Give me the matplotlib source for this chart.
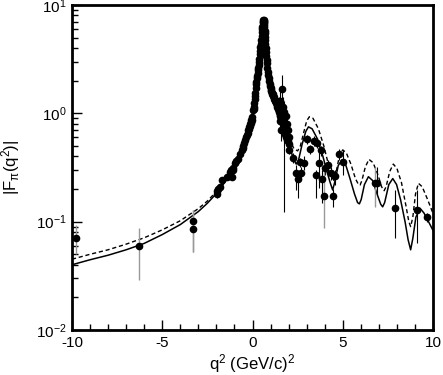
import numpy as np
import matplotlib.pyplot as plt
from matplotlib.ticker import FixedLocator, NullFormatter

plt.rcParams['font.family'] = ['Liberation Sans', 'DejaVu Sans']
plt.rcParams['mathtext.fontset'] = 'custom'
plt.rcParams['mathtext.rm'] = 'Liberation Sans'
plt.rcParams['mathtext.it'] = 'Liberation Sans'

# model curves
q_solid = [-10, -9, -8, -7, -6, -5, -4, -3, -2.5, -2, -1.5, -1, -0.5, -0.25, 0,
           0.1, 0.2, 0.3, 0.4, 0.45, 0.5, 0.55, 0.6, 0.62, 0.65, 0.7, 0.75, 0.8,
           0.9, 1.0, 1.1, 1.2, 1.35, 1.5, 1.7, 1.9, 2.1, 2.3, 2.42, 2.55, 2.75,
           2.95, 3.1, 3.3, 3.6, 3.9, 4.15, 4.3, 4.44, 4.55, 4.75, 4.95, 5.15,
           5.4, 5.65, 5.82, 5.92, 6.02, 6.2, 6.42, 6.65, 6.9, 7.1, 7.21, 7.32,
           7.55, 7.77, 7.98, 8.2, 8.45, 8.62, 8.76, 8.88, 9.05, 9.28, 9.5, 9.75, 10]
f_solid = [0.040, 0.0445, 0.049, 0.055, 0.063, 0.076, 0.094, 0.124, 0.148, 0.182,
           0.235, 0.33, 0.52, 0.69, 1.0, 1.25, 1.7, 2.4, 3.5, 4.4, 5.5, 6.6, 7.3,
           7.2, 6.5, 5.0, 3.8, 3.0, 2.2, 1.8, 1.6, 1.45, 1.28, 1.1, 0.85, 0.62,
           0.46, 0.37, 0.34, 0.37, 0.52, 0.68, 0.75, 0.72, 0.58, 0.40, 0.28, 0.23,
           0.196, 0.23, 0.33, 0.37, 0.34, 0.25, 0.18, 0.15, 0.146, 0.16, 0.22,
           0.26, 0.24, 0.18, 0.145, 0.137, 0.15, 0.22, 0.25, 0.22, 0.16, 0.10,
           0.068, 0.055, 0.07, 0.11, 0.133, 0.12, 0.10, 0.083]

q_dash = [-10, -9, -8, -7, -6, -5, -4, -3, -2.5, -2, -1.5, -1, -0.5, -0.25, 0,
          0.1, 0.2, 0.3, 0.4, 0.45, 0.5, 0.55, 0.6, 0.62, 0.65, 0.7, 0.75, 0.8,
          0.9, 1.0, 1.1, 1.2, 1.35, 1.5, 1.7, 1.9, 2.1, 2.3, 2.5, 2.65, 2.85,
          3.0, 3.15, 3.35, 3.65, 3.95, 4.2, 4.38, 4.51, 4.62, 4.82, 5.0, 5.2,
          5.45, 5.7, 5.87, 5.96, 6.06, 6.25, 6.45, 6.68, 6.95, 7.15, 7.29, 7.4,
          7.6, 7.8, 8.0, 8.25, 8.5, 8.66, 8.76, 8.88, 9.03, 9.19, 9.4, 9.7, 10]
f_dash = [0.045, 0.050, 0.055, 0.062, 0.071, 0.084, 0.102, 0.132, 0.155, 0.19,
          0.243, 0.34, 0.53, 0.70, 1.0, 1.25, 1.7, 2.4, 3.5, 4.4, 5.5, 6.6, 7.3,
          7.2, 6.5, 5.0, 3.8, 3.0, 2.25, 1.85, 1.65, 1.5, 1.33, 1.17, 0.93, 0.70,
          0.55, 0.47, 0.45, 0.50, 0.68, 0.85, 0.93, 0.90, 0.72, 0.50, 0.34, 0.26,
          0.24, 0.28, 0.41, 0.46, 0.43, 0.34, 0.25, 0.22, 0.218, 0.24, 0.32,
          0.376, 0.35, 0.27, 0.21, 0.193, 0.21, 0.29, 0.34, 0.31, 0.23, 0.14,
          0.10, 0.09, 0.11, 0.18, 0.226, 0.21, 0.16, 0.119]

# data points with black error bars: q2, |F|, lower bound, upper bound
q_blk = [-1.98, -1.95, -1.71, -1.25, -1.21, -1.15, -1.06, -0.97, -0.79, -0.6,
         -0.5, -0.42, -0.35, -0.3, -0.23, -0.18, -0.12, -0.08, -0.04,
         0.04, 0.08, 0.12, 0.16, 0.2, 0.24, 0.28, 0.32, 0.36, 0.4, 0.44, 0.48,
         0.52, 0.55, 0.58, 0.6, 0.62, 0.64, 0.66, 0.68, 0.7, 0.73, 0.76, 0.8,
         0.85, 0.9, 0.95, 1.0, 1.05, 1.1, 1.15, 1.2, 1.25, 1.3, 1.35, 1.4, 1.45,
         1.5, 1.55, 1.6, 1.65, 1.7, 1.75, 1.8, 1.85, 1.9, 1.95, 2.0,
         1.45, 1.5, 1.55, 1.6, 1.62, 1.65, 1.7, 1.75, 1.8, 1.85, 1.9, 1.95, 2.0,
         2.04, 2.26, 2.39, 2.54, 2.67, 2.63, 2.87, 3.0, 3.19, 3.41, 3.56, 3.67,
         3.5, 3.78, 3.83, 4.03, 4.17, 4.33, 4.48, 4.57, 4.79, 5.0, 6.88, 7.9,
         9.1, 9.65]
f_blk = [0.18, 0.19, 0.24, 0.29, 0.30, 0.26, 0.31, 0.345, 0.38, 0.46,
         0.50, 0.57, 0.60, 0.63, 0.70, 0.74, 0.80, 0.84, 0.87,
         1.07, 1.15, 1.35, 1.55, 1.85, 2.1, 2.35, 2.6, 3.0, 3.5, 4.1, 4.8,
         5.6, 6.3, 6.9, 7.2, 7.1, 6.8, 6.2, 5.5, 4.8, 4.0, 3.4, 2.9,
         2.4, 2.1, 1.85, 1.7, 1.6, 1.5, 1.45, 1.35, 1.3, 1.3, 1.2, 1.15, 1.05,
         1.0, 0.95, 0.9, 0.85, 0.8, 0.72, 0.68, 0.62, 0.6, 0.55, 0.52,
         1.2, 0.85, 1.3, 0.7, 1.68, 0.95, 1.15, 1.03, 0.75, 0.95, 0.8, 0.7, 0.6,
         0.46, 0.39, 0.283, 0.246, 0.283, 0.357, 0.35, 0.575, 0.466, 0.56, 0.535,
         0.35, 0.267, 0.458, 0.25, 0.31, 0.333, 0.283, 0.173, 0.264, 0.42, 0.357,
         0.228, 0.133, 0.128, 0.11]
lo_blk = [0.165, 0.175, 0.22, 0.27, 0.28, 0.24, 0.29, 0.32, 0.36, 0.44,
          0.48, 0.55, 0.58, 0.61, 0.68, 0.72, 0.78, 0.82, 0.85,
          1.04, 1.12, 1.32, 1.52, 1.8, 2.05, 2.3, 2.55, 2.9, 3.4, 4.0, 4.7,
          5.5, 6.2, 6.8, 7.1, 7.0, 6.7, 6.1, 5.4, 4.7, 3.9, 3.3, 2.8,
          2.3, 2.0, 1.75, 1.6, 1.5, 1.4, 1.35, 1.25, 1.2, 1.2, 1.1, 1.05, 0.95,
          0.9, 0.85, 0.8, 0.75, 0.7, 0.64, 0.6, 0.55, 0.53, 0.5, 0.47,
          1.0, 0.7, 1.1, 0.55, 1.3, 0.8, 0.95, 0.123, 0.6, 0.8, 0.65, 0.58, 0.5,
          0.42, 0.35, 0.194, 0.164, 0.24, 0.32, 0.3, 0.52, 0.42, 0.5, 0.48,
          0.203, 0.164, 0.4, 0.148, 0.27, 0.29, 0.24, 0.138, 0.22, 0.37, 0.27,
          0.18, 0.070, 0.063, 0.10]
hi_blk = [0.195, 0.205, 0.26, 0.31, 0.32, 0.28, 0.33, 0.37, 0.40, 0.48,
          0.52, 0.59, 0.62, 0.65, 0.72, 0.76, 0.82, 0.86, 0.89,
          1.10, 1.18, 1.38, 1.58, 1.9, 2.15, 2.4, 2.65, 3.1, 3.6, 4.2, 4.9,
          5.7, 6.4, 7.0, 7.3, 7.2, 6.9, 6.3, 5.6, 4.9, 4.1, 3.5, 3.0,
          2.5, 2.2, 1.95, 1.8, 1.7, 1.6, 1.55, 1.45, 1.4, 1.4, 1.3, 1.25, 1.15,
          1.1, 1.05, 1.0, 0.95, 0.9, 0.8, 0.76, 0.7, 0.67, 0.6, 0.57,
          1.4, 1.0, 1.6, 0.85, 2.26, 1.1, 1.4, 1.3, 0.9, 1.1, 0.95, 0.82, 0.7,
          0.5, 0.43, 0.33, 0.28, 0.32, 0.39, 0.4, 0.63, 0.51, 0.62, 0.59,
          0.45, 0.3, 0.5, 0.3, 0.35, 0.37, 0.32, 0.2, 0.3, 0.47, 0.46,
          0.32, 0.194, 0.194, 0.12]

# extra densely packed points along the rho peak (errors hidden by markers)
q_dense = [-1.9, -1.8, -1.4, -1.1, -0.9, -0.7, -0.55, -0.45, -0.27, -0.2, -0.15,
           -0.1, -0.06, -0.02, 0.06, 0.1, 0.14, 0.18, 0.22, 0.26, 0.3, 0.34,
           0.38, 0.42, 0.46, 0.5, 0.535, 0.565, 0.59, 0.61, 0.63, 0.65, 0.67,
           0.69, 0.715, 0.745, 0.78, 0.825, 0.875, 0.925, 0.975, 1.025, 1.075,
           1.125, 1.175, 1.225, 1.275, 1.325, 1.375, 1.425, 1.475, 1.525, 1.575,
           1.625, 1.675, 1.725, 1.775, 1.825, 1.875, 1.925]
f_dense = [0.20, 0.21, 0.26, 0.30, 0.36, 0.42, 0.48, 0.53, 0.66, 0.72, 0.77,
           0.82, 0.86, 0.93, 1.1, 1.25, 1.45, 1.7, 1.95, 2.2, 2.5, 2.8,
           3.2, 3.8, 4.4, 5.2, 6.0, 6.6, 7.0, 7.25, 7.0, 6.5, 5.8,
           5.1, 4.4, 3.7, 3.1, 2.6, 2.25, 2.0, 1.8, 1.65, 1.55,
           1.5, 1.4, 1.33, 1.28, 1.25, 1.15, 1.1, 1.02, 0.97, 0.92,
           0.88, 0.82, 0.76, 0.7, 0.65, 0.6, 0.57]

# data points with grey error bars
q_gry = [-9.8, -6.3, -3.28, -3.28, 3.96, 6.79]
f_gry = [0.070, 0.059, 0.102, 0.0855, 0.173, 0.226]
lo_gry = [0.050, 0.0289, 0.0527, 0.0527, 0.087, 0.136]
hi_gry = [0.093, 0.0877, 0.128, 0.128, 0.30, 0.32]

fig = plt.figure(figsize=(4.43, 3.75), dpi=100)
ax = fig.add_axes([0.1625, 0.12, 0.815, 0.8667])

ax.plot(q_solid, f_solid, color='black', lw=1.1, zorder=3)
ax.plot(q_dash, f_dash, color='black', lw=1.0, ls=(0, (3, 2)), zorder=3)

f_blk = np.array(f_blk)
ax.errorbar(q_blk, f_blk, yerr=[f_blk - np.array(lo_blk), np.array(hi_blk) - f_blk],
            fmt='o', color='black', ms=4.5, elinewidth=0.8, capsize=0, zorder=4)
ax.plot(q_dense, f_dense, 'o', color='black', ms=4.5, zorder=4)
f_gry = np.array(f_gry)
ax.errorbar(q_gry, f_gry, yerr=[f_gry - np.array(lo_gry), np.array(hi_gry) - f_gry],
            fmt='o', color='black', ecolor='#999999', ms=4.5, elinewidth=1.0,
            capsize=0, zorder=4)

ax.set_yscale('log')
ax.set_xlim(-10, 10)
ax.set_ylim(0.01, 10)

ax.set_xticks([-10, -5, 0, 5, 10])
ax.set_xticklabels(['-10', '-5', '0', '5', '10'])
ax.xaxis.set_minor_locator(FixedLocator(np.arange(-10, 11, 1)))
ax.set_yticks([0.01, 0.1, 1, 10])
ax.set_yticklabels(['10$^{-2}$', '10$^{-1}$', '10$^{0}$', '10$^{1}$'])
ax.yaxis.set_minor_formatter(NullFormatter())

ax.tick_params(which='both', direction='in', top=False, right=False, labelsize=11, width=1.0)
ax.tick_params(which='major', length=7, pad=4)
ax.tick_params(which='minor', length=4)
for s in ax.spines.values():
    s.set_linewidth(2)

ax.set_xlabel('q$^2$ (GeV/c)$^2$', fontsize=12, labelpad=2)
ax.set_ylabel(r'|F$_{\pi}$(q$^2$)|', fontsize=12, labelpad=10)

plt.savefig('out.png', dpi=100)
